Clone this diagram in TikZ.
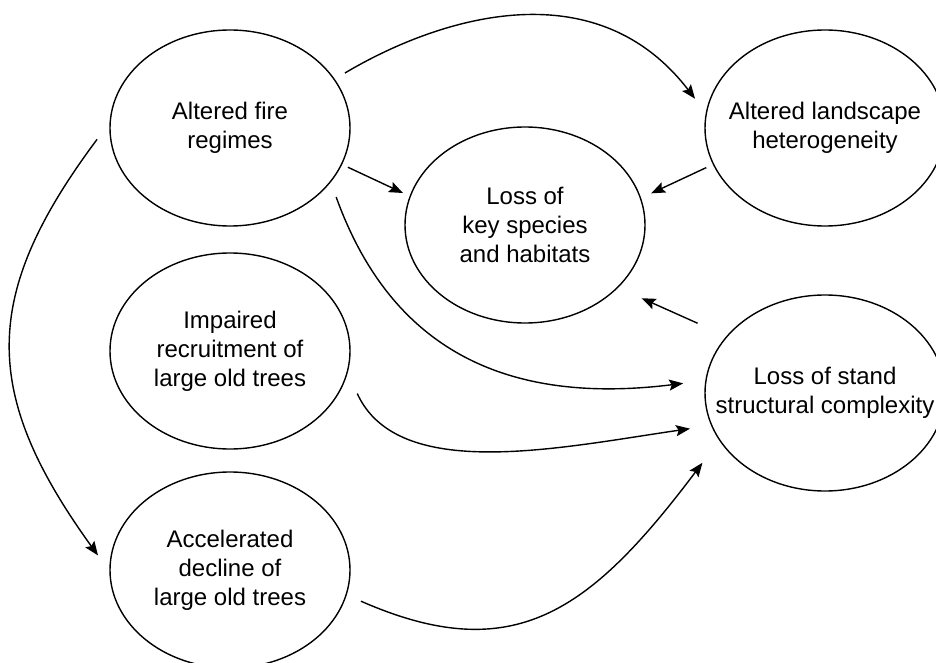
\documentclass[tikz,border=0pt]{standalone}
\usepackage{fontspec}
\setmainfont{Liberation Sans}
\usetikzlibrary{shapes.geometric,arrows.meta}
\newcommand\bubtext[1]{\makebox[0pt]{\parbox{300pt}{\centering\fontsize{24}{29}\selectfont #1}}}
\begin{document}
\begin{tikzpicture}[x=1pt,y=-1pt,
  bubble/.style={draw, ellipse, line width=1.4pt, minimum width=240pt, minimum height=196pt, inner sep=0pt, outer sep=0pt},
  arr/.style={line width=1.4pt, -{Stealth[length=14pt,width=11pt,inset=2.5pt]}}]
\useasboundingbox[fill=white] (0,0) rectangle (936,663);
\node[bubble] (A) at (230,128) {\bubtext{Altered fire\\regimes}};
\node[bubble] (B) at (825,128) {\bubtext{Altered landscape\\heterogeneity}};
\node[bubble] (C) at (525,225) {\bubtext{Loss of\\key species\\and habitats}};
\node[bubble] (D) at (230,351) {\bubtext{Impaired\\recruitment of\\large old trees}};
\node[bubble] (F) at (825,393) {\bubtext{Loss of stand\\structural complexity}};
\node[bubble] (E) at (230,570) {\bubtext{Accelerated\\decline of\\large old trees}};
\draw[arr, shorten <=12.5pt, shorten >=18.5pt] (A.25) .. controls (434,20) and (593,-34) .. (B.173);
\draw[arr, shorten <=7pt, shorten >=8pt] (A.-18) -- (C.166);
\draw[arr, shorten <=8pt, shorten >=11.8pt] (B.198) -- (C.13);
\draw[arr, shorten <=32.3pt, shorten >=26.5pt] (F.150.5) -- (C.-34.5);
\draw[arr, shorten <=16.5pt, shorten >=23pt] (A.-28.3) .. controls (392,352) and (509,405) .. (F.174);
\draw[arr, shorten <=24pt, shorten >=22pt] (D.-10.8) .. controls (398,483) and (559.5,447.6) .. (F.196);
\draw[arr, shorten <=16.2pt, shorten >=28.6pt] (E.-12) .. controls (513.6,668.2) and (590,612) .. (F.204);
\draw[arr, shorten <=22pt, shorten >=20.5pt] (A.177) .. controls (-19.2,295) and (-19.2,393.1) .. (E.181);
\end{tikzpicture}
\end{document}
